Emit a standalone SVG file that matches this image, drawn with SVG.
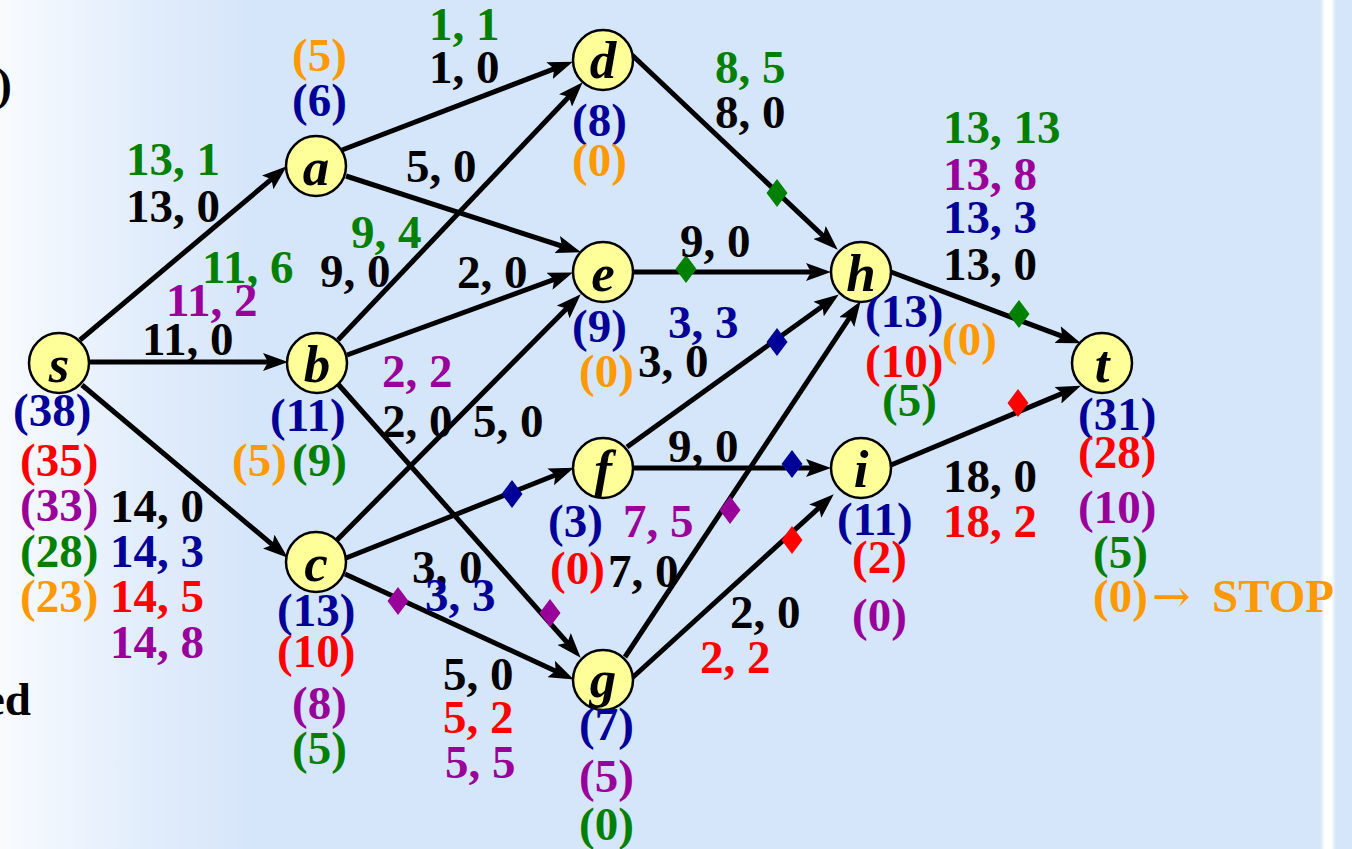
<svg xmlns="http://www.w3.org/2000/svg" width="1352" height="849" viewBox="0 0 1352 849">
<defs>
<linearGradient id="glow" x1="0" y1="0" x2="1" y2="0">
<stop offset="0" stop-color="#ffffff" stop-opacity="0.85"/>
<stop offset="0.5" stop-color="#ffffff" stop-opacity="0.35"/>
<stop offset="1" stop-color="#ffffff" stop-opacity="0"/>
</linearGradient>
<linearGradient id="stripe" x1="0" y1="0" x2="1" y2="0">
<stop offset="0" stop-color="#ffffff" stop-opacity="0"/>
<stop offset="0.3" stop-color="#ffffff" stop-opacity="1"/>
<stop offset="0.7" stop-color="#ffffff" stop-opacity="1"/>
<stop offset="1" stop-color="#ffffff" stop-opacity="0"/>
</linearGradient>
<marker id="arr" markerUnits="userSpaceOnUse" markerWidth="25" markerHeight="18" viewBox="0 0 25 18" refX="16" refY="9" orient="auto">
<path d="M0,0 L25,9 L0,18 L5,9 Z" fill="#000"/>
</marker>
<path id="dm" d="M0,-14 L10.5,0 L0,14 L-10.5,0 Z"/>
</defs>
<style>
text{font-family:"Liberation Serif","Times New Roman",serif;font-weight:bold;font-size:47px}
.k{fill:#000}.g{fill:#008000}.p{fill:#990099}.b{fill:#000099}.r{fill:#ff0000}.o{fill:#ff9900}
.edge{stroke:#000;stroke-width:5;fill:none;marker-end:url(#arr)}
.node circle{fill:#ffff99;stroke:#000;stroke-width:2.5}
.node .lt{font-style:italic;font-size:53px;text-anchor:middle;fill:#000}
.dg{fill:#008000}.dp{fill:#990099}.db{fill:#000099}.dr{fill:#ff0000}
</style>
<rect x="0" y="0" width="1352" height="849" fill="#d5e5fa"/>
<rect x="0" y="0" width="260" height="849" fill="url(#glow)"/>
<rect x="1320" y="0" width="16" height="849" fill="url(#stripe)"/>
<text class="k" x="12" y="100" text-anchor="end" font-size="48">)</text>
<text class="k" x="31" y="715" text-anchor="end">ed</text>

<g id="connectors">
<line class="edge" x1="80" y1="340" x2="279.9" y2="172.1"/>
<line class="edge" x1="90" y1="362" x2="279" y2="362"/>
<line class="edge" x1="82" y1="385" x2="280.9" y2="551.9"/>
<line class="edge" x1="342" y1="150" x2="564.5" y2="64.9"/>
<line class="edge" x1="346" y1="176" x2="572.4" y2="249.5"/>
<line class="edge" x1="338" y1="340" x2="576.5" y2="88.8"/>
<line class="edge" x1="347" y1="355" x2="564.5" y2="275.7"/>
<line class="edge" x1="338" y1="384" x2="574.7" y2="651"/>
<line class="edge" x1="337" y1="540" x2="574.4" y2="300.7"/>
<line class="edge" x1="346" y1="558" x2="565.6" y2="471"/>
<line class="edge" x1="345" y1="574" x2="565.7" y2="675.7"/>
<line class="edge" x1="632" y1="55" x2="831.2" y2="243.5"/>
<line class="edge" x1="633" y1="272" x2="822" y2="272"/>
<line class="edge" x1="627" y1="447" x2="831.5" y2="299.7"/>
<line class="edge" x1="633" y1="468" x2="822" y2="468"/>
<line class="edge" x1="625" y1="657" x2="855.6" y2="308.7"/>
<line class="edge" x1="632" y1="678" x2="827.1" y2="500.4"/>
<line class="edge" x1="891" y1="272" x2="1072.5" y2="340.2"/>
<line class="edge" x1="891" y1="465" x2="1072.6" y2="389.1"/>
</g>

<g id="flow-marks">
<use href="#dm" class="dg" x="777" y="193"/>
<use href="#dm" class="dg" x="686" y="269"/>
<use href="#dm" class="db" x="777" y="342"/>
<use href="#dm" class="db" x="512" y="494"/>
<use href="#dm" class="db" x="792" y="464"/>
<use href="#dm" class="dp" x="730" y="510"/>
<use href="#dm" class="dr" x="792" y="540"/>
<use href="#dm" class="dp" x="550" y="613"/>
<use href="#dm" class="dp" x="398" y="601"/>
<use href="#dm" class="dg" x="1019" y="314"/>
<use href="#dm" class="dr" x="1018" y="403"/>
</g>

<g id="edge-labels">
<text class="g" x="126" y="175">13, 1</text>
<text class="k" x="126" y="222">13, 0</text>
<text class="g" x="202" y="283">11, 6</text>
<text class="p" x="166" y="316">11, 2</text>
<text class="k" x="142" y="355">11, 0</text>
<text class="k" x="110" y="522">14, 0</text>
<text class="b" x="110" y="567">14, 3</text>
<text class="r" x="110" y="612">14, 5</text>
<text class="p" x="110" y="658">14, 8</text>
<text class="g" x="429" y="40">1, 1</text>
<text class="k" x="429" y="83">1, 0</text>
<text class="k" x="406" y="182">5, 0</text>
<text class="g" x="351" y="248">9, 4</text>
<text class="k" x="320" y="287">9, 0</text>
<text class="k" x="457" y="288">2, 0</text>
<text class="p" x="382" y="387">2, 2</text>
<text class="k" x="382" y="437">2, 0</text>
<text class="k" x="473" y="437">5, 0</text>
<text class="k" x="412" y="583">3, 0</text>
<text class="b" x="425" y="611">3, 3</text>
<text class="k" x="443" y="690">5, 0</text>
<text class="r" x="443" y="733">5, 2</text>
<text class="p" x="445" y="778">5, 5</text>
<text class="g" x="715" y="83">8, 5</text>
<text class="k" x="715" y="128">8, 0</text>
<text class="k" x="680" y="257">9, 0</text>
<text class="b" x="668" y="338">3, 3</text>
<text class="k" x="638" y="377">3, 0</text>
<text class="k" x="668" y="462">9, 0</text>
<text class="p" x="623" y="537">7, 5</text>
<text class="k" x="608" y="587">7, 0</text>
<text class="k" x="730" y="628">2, 0</text>
<text class="r" x="700" y="673">2, 2</text>
<text class="g" x="943" y="143">13, 13</text>
<text class="p" x="943" y="190">13, 8</text>
<text class="b" x="943" y="233">13, 3</text>
<text class="k" x="943" y="280">13, 0</text>
<text class="k" x="943" y="492">18, 0</text>
<text class="r" x="943" y="537">18, 2</text>
</g>

<g id="node-s" class="node">
<circle cx="59" cy="363" r="30"/>
<text class="lt" x="59" y="382">s</text>
<text class="b" x="13" y="426">(38)</text>
<text class="r" x="20" y="476">(35)</text>
<text class="p" x="20" y="521">(33)</text>
<text class="g" x="20" y="567">(28)</text>
<text class="o" x="20" y="612">(23)</text>
</g>
<g id="node-a" class="node">
<circle cx="316" cy="166" r="30"/>
<text class="lt" x="316" y="185">a</text>
<text class="o" x="292" y="71">(5)</text>
<text class="b" x="292" y="116">(6)</text>
</g>
<g id="node-b" class="node">
<circle cx="317" cy="363" r="30"/>
<text class="lt" x="317" y="382">b</text>
<text class="b" x="270" y="431">(11)</text>
<text class="o" x="232" y="476">(5)</text>
<text class="g" x="292" y="476">(9)</text>
</g>
<g id="node-c" class="node">
<circle cx="316" cy="562" r="30"/>
<text class="lt" x="316" y="581">c</text>
<text class="b" x="277" y="626">(13)</text>
<text class="r" x="277" y="667">(10)</text>
<text class="p" x="292" y="719">(8)</text>
<text class="g" x="292" y="764">(5)</text>
</g>
<g id="node-d" class="node">
<circle cx="603" cy="60" r="30"/>
<text class="lt" x="603" y="78">d</text>
<text class="b" x="572" y="136">(8)</text>
<text class="o" x="572" y="176">(0)</text>
</g>
<g id="node-e" class="node">
<circle cx="603" cy="272" r="30"/>
<text class="lt" x="603" y="291">e</text>
<text class="b" x="572" y="342">(9)</text>
<text class="o" x="579" y="387">(0)</text>
</g>
<g id="node-f" class="node">
<circle cx="603" cy="468" r="30"/>
<text class="lt" x="603" y="487">f</text>
<text class="b" x="548" y="537">(3)</text>
<text class="r" x="550" y="584">(0)</text>
</g>
<g id="node-g" class="node">
<circle cx="603" cy="680" r="30"/>
<text class="lt" x="603" y="697">g</text>
<text class="b" x="579" y="740">(7)</text>
<text class="p" x="579" y="792">(5)</text>
<text class="g" x="579" y="840">(0)</text>
</g>
<g id="node-h" class="node">
<circle cx="861" cy="272" r="30"/>
<text class="lt" x="861" y="291">h</text>
<text class="b" x="865" y="327">(13)</text>
<text class="r" x="865" y="377">(10)</text>
<text class="g" x="882" y="416">(5)</text>
<text class="o" x="942" y="355">(0)</text>
</g>
<g id="node-i" class="node">
<circle cx="861" cy="468" r="30"/>
<text class="lt" x="861" y="487">i</text>
<text class="b" x="837" y="535">(11)</text>
<text class="r" x="852" y="573">(2)</text>
<text class="p" x="852" y="631">(0)</text>
</g>
<g id="node-t" class="node">
<circle cx="1102" cy="363" r="30"/>
<text class="lt" x="1102" y="382">t</text>
<text class="b" x="1078" y="430">(31)</text>
<text class="r" x="1078" y="468">(28)</text>
<text class="p" x="1078" y="523">(10)</text>
<text class="g" x="1093" y="568">(5)</text>
<text class="o" x="1093" y="612">(0)<tspan x="1152" font-family="'DejaVu Serif',serif" font-weight="normal" font-size="46">→</tspan><tspan x="1212">STOP</tspan></text>
</g>
</svg>
